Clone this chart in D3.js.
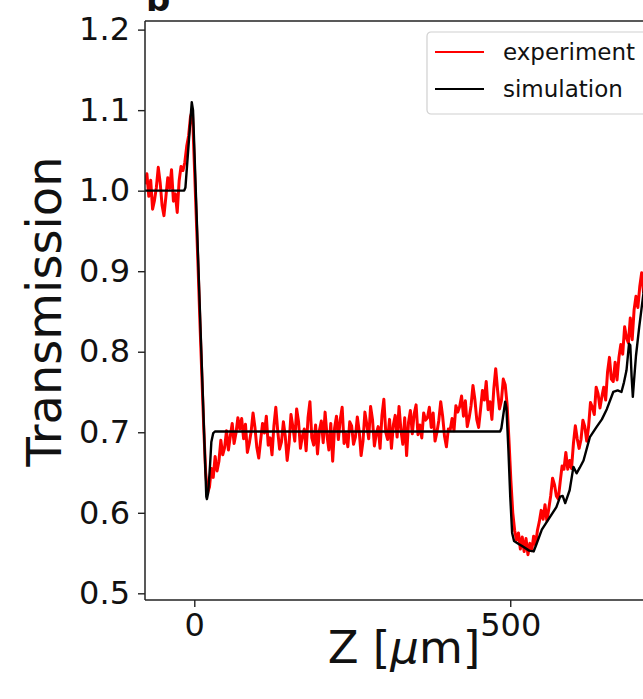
<!DOCTYPE html>
<html>
<head>
<meta charset="utf-8">
<script src="https://cdn.jsdelivr.net/npm/d3@7"></script>
<style>
  body { margin: 0; background: #fff; }
  text { font-family: "DejaVu Sans", sans-serif; }
</style>
</head>
<body>
<div id="chart"></div>
<script>
// Data: z in micrometres, transmission
var yTicks = [0.5, 0.6, 0.7, 0.8, 0.9, 1.0, 1.1, 1.2];
var xTicks = [0, 500];
var seriesNames = ["experiment", "simulation"];

var experiment = [
  [-78,1.008],[-75,1.021],[-72,0.993],[-69,1.013],[-66,0.977],[-63,0.988],[-60,1.004],[-57,1.029],[-54,1.010],[-51,0.982],
  [-48,0.969],[-45,0.992],[-42,1.016],[-39,1.003],[-36,1.026],[-33,0.987],[-30,0.996],[-27,0.973],[-24,1.012],[-21,1.030],
  [-18,1.025],[-15,1.035],[-12,1.055],[-9,1.068],[-6,1.092],[-3,1.100],
  [0,1.035],[3,0.970],[6,0.905],[9,0.835],[12,0.770],[15,0.705],[18,0.650],[21,0.625],[24,0.632],[27,0.655],
  [30,0.644],[33,0.670],[36,0.652],[39,0.664],[42,0.690],[45,0.672],[48,0.681],[51,0.702],[54,0.678],[57,0.695],
  [60,0.711],[63,0.686],[66,0.699],[69,0.718],
  [72,0.704],[75,0.717],[78,0.692],[81,0.710],[84,0.675],[87,0.686],[90,0.701],[93,0.724],[96,0.706],[99,0.681],
  [102,0.668],[105,0.690],[108,0.711],[111,0.699],[114,0.720],[117,0.684],[120,0.693],[123,0.672],[126,0.708],[129,0.731],
  [132,0.702],[135,0.679],[138,0.688],[141,0.713],[144,0.695],[147,0.665],[150,0.686],[153,0.722],[156,0.707],[159,0.689],
  [162,0.729],[165,0.713],[168,0.680],[171,0.695],[174,0.704],[177,0.677],[180,0.718],[183,0.738],[186,0.693],[189,0.684],
  [192,0.709],[195,0.673],[198,0.702],[201,0.714],[204,0.687],[207,0.725],[210,0.696],[213,0.678],[216,0.711],[219,0.664],
  [222,0.705],[225,0.720],[228,0.691],[231,0.716],[234,0.731],[237,0.686],[240,0.698],[243,0.682],[246,0.713],
  [249,0.708],[252,0.685],[255,0.694],[258,0.719],[261,0.701],[264,0.671],[267,0.689],[270,0.725],[273,0.710],[276,0.692],
  [279,0.732],[282,0.716],[285,0.683],[288,0.698],[291,0.707],[294,0.680],[297,0.721],[300,0.741],[303,0.700],[306,0.691],
  [309,0.716],[312,0.680],[315,0.709],[318,0.721],[321,0.694],[324,0.732],[327,0.703],[330,0.685],[333,0.718],[336,0.671],
  [339,0.712],[342,0.727],[345,0.698],[348,0.723],[351,0.734],[354,0.697],[357,0.709],[360,0.693],[363,0.724],[366,0.715],
  [369,0.718],[372,0.731],[375,0.706],[378,0.724],[381,0.689],[384,0.700],[387,0.715],[390,0.738],[393,0.720],[396,0.695],
  [399,0.682],[402,0.704],
  [405,0.703],[408,0.717],[411,0.702],[414,0.733],[417,0.725],[420,0.732],[423,0.745],[426,0.720],[429,0.739],[432,0.707],
  [435,0.718],[438,0.733],[441,0.758],[444,0.741],[447,0.716],[450,0.706],[453,0.728],[456,0.752],[459,0.740],[462,0.763],
  [465,0.728],[468,0.738],[471,0.716],[474,0.754],[477,0.779],[480,0.752],[483,0.729],[486,0.739],[489,0.766],[492,0.759],
  [495,0.735],[498,0.690],[501,0.640],[504,0.600],[507,0.578],[510,0.566],[513,0.575],[516,0.555],[519,0.570],[522,0.552],
  [525,0.568],[528,0.548],[531,0.562],[534,0.553],[537,0.571],[540,0.560],[543,0.578],
  [546,0.589],[549,0.603],[552,0.592],[555,0.610],[558,0.590],[561,0.605],[564,0.621],[567,0.643],[570,0.635],[573,0.621],
  [576,0.617],[579,0.638],[582,0.658],[585,0.654],[588,0.675],[591,0.654],[594,0.665],[597,0.655],[600,0.686],[603,0.708],
  [606,0.692],[609,0.680],[612,0.691],[615,0.715],[618,0.707],[621,0.689],[624,0.707],[627,0.737],[630,0.731],[633,0.722],
  [636,0.756],[639,0.748],[642,0.730],[645,0.744],[648,0.756],[651,0.740],[654,0.775],[657,0.793],[660,0.766],[663,0.763],
  [666,0.787],[669,0.765],[672,0.793],[675,0.809],[678,0.797],[681,0.831],[684,0.817],[687,0.811],[690,0.842],[693,0.815],
  [696,0.852],[699,0.869],[702,0.855],[705,0.881],[708,0.898],[711,0.873]
];

var simulation = [
  [-80,1.0],[-16,1.0],[-14,1.004],[-4,1.110],[-2,1.100],[19,0.620],[20,0.617],[22,0.625],[25,0.660],[27,0.688],
  [30,0.699],[33,0.701],[484,0.701],[486,0.705],[492,0.738],[494,0.730],[497,0.680],[500,0.620],[503,0.575],[506,0.565],
  [512,0.562],[520,0.558],[530,0.553],[537,0.552],[541,0.560],[550,0.579],[563,0.595],[573,0.607],[579,0.620],[583,0.621],
  [587,0.612],[594,0.628],[600,0.657],[605,0.649],[610,0.656],[616,0.665],[626,0.694],[637,0.707],[645,0.716],[653,0.729],
  [663,0.750],[670,0.752],[676,0.750],[680,0.762],[684,0.777],[688,0.810],[690,0.808],[692,0.770],[694,0.744],[696,0.765],
  [699,0.795],[704,0.830],[712,0.880]
];

var W = 643, H = 699;
var margin = { top: 21, left: 145, bottom: 99, right: -17 };
var width = W - margin.left - margin.right,
    height = H - margin.top - margin.bottom;

var svg = d3.select("#chart")
  .append("svg")
    .attr("width", W)
    .attr("height", H);

var g = svg.append("g")
    .attr("transform", "translate(" + margin.left + "," + margin.top + ")");

var x = d3.scaleLinear().domain([-78, 737]).range([0, width]);
var y = d3.scaleLinear().domain([0.4917, 1.2107]).range([height, 0]);

g.append("clipPath").attr("id", "clip")
  .append("rect").attr("width", width).attr("height", height);

var line = d3.line()
    .x(function (d) { return x(d[0]); })
    .y(function (d) { return y(d[1]); });

var plot = g.append("g").attr("clip-path", "url(#clip)");

plot.append("path")
    .datum(experiment)
    .attr("fill", "none")
    .attr("stroke", "red")
    .attr("stroke-width", 3)
    .attr("stroke-linejoin", "round")
    .attr("d", line);

plot.append("path")
    .datum(simulation)
    .attr("fill", "none")
    .attr("stroke", "black")
    .attr("stroke-width", 2.4)
    .attr("stroke-linejoin", "round")
    .attr("d", line);

// Axes
var yAxis = g.append("g")
    .call(d3.axisLeft(y).tickValues(yTicks).tickFormat(d3.format(".1f")).tickSize(7).tickPadding(8).tickSizeOuter(0));
var xAxis = g.append("g")
    .attr("transform", "translate(0," + height + ")")
    .call(d3.axisBottom(x).tickValues(xTicks).tickFormat(d3.format("d")).tickSize(7).tickPadding(6).tickSizeOuter(0));

[xAxis, yAxis].forEach(function (a) {
  a.select(".domain").remove();
  a.selectAll(".tick line").attr("stroke", "#222").attr("stroke-width", 1.4);
  a.selectAll(".tick text")
    .attr("fill", "#111")
    .style("font-family", "DejaVu Sans")
    .style("font-size", "32px");
});

// Spines (left, bottom, top; right one lies outside the crop)
g.append("line").attr("x1", 0).attr("x2", 0).attr("y1", 0).attr("y2", height)
  .attr("stroke", "#222").attr("stroke-width", 1.5);
g.append("line").attr("x1", 0).attr("x2", width).attr("y1", height).attr("y2", height)
  .attr("stroke", "#222").attr("stroke-width", 1.5);
g.append("line").attr("x1", 0).attr("x2", width).attr("y1", 0).attr("y2", 0)
  .attr("stroke", "#222").attr("stroke-width", 1.5);

// Axis labels
svg.append("text")
    .attr("text-anchor", "middle")
    .attr("transform", "translate(61," + (margin.top + y(0.85)) + ") rotate(-90)")
    .style("font-size", "48px")
    .attr("fill", "#111")
    .text("Transmission");

var xl = svg.append("text")
    .attr("text-anchor", "middle")
    .attr("x", 404)
    .attr("y", 663)
    .style("font-size", "45px")
    .attr("fill", "#111");
xl.append("tspan").text("Z [");
xl.append("tspan").style("font-style", "italic").text("\u03bc");
xl.append("tspan").text("m]");

// Cropped panel letter
svg.append("text")
    .attr("x", 146)
    .attr("y", 11)
    .style("font-size", "34px")
    .style("font-weight", "bold")
    .attr("fill", "#111")
    .text("b");

// Legend
var legend = svg.append("g").attr("transform", "translate(427,32)");
legend.append("rect")
    .attr("width", 240).attr("height", 82)
    .attr("rx", 4)
    .attr("fill", "white").attr("fill-opacity", 0.8)
    .attr("stroke", "#d0d0d0").attr("stroke-width", 1.2);

var legendColors = ["red", "black"];
seriesNames.forEach(function (name, i) {
  var ly = 20 + i * 37;
  legend.append("line")
      .attr("x1", 8).attr("x2", 57).attr("y1", ly).attr("y2", ly)
      .attr("stroke", legendColors[i]).attr("stroke-width", 2.2);
  legend.append("text")
      .attr("x", 76).attr("y", ly + 8)
      .style("font-size", "23px")
      .attr("fill", "#111")
      .text(name);
});
</script>
</body>
</html>
